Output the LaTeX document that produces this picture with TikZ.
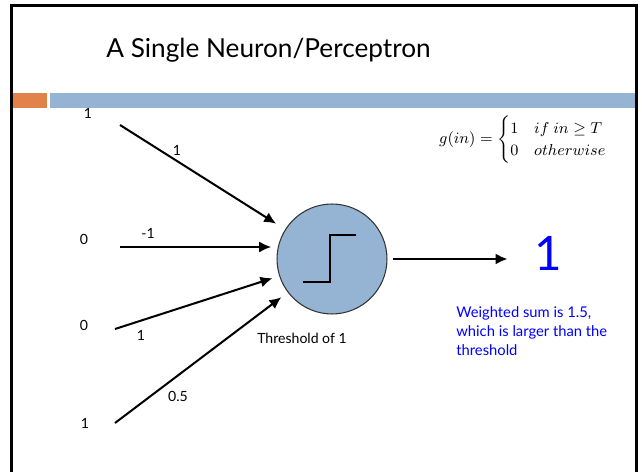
\documentclass[tikz,border=0pt]{standalone}
\usepackage{amsmath}
\usepackage{amssymb}
\usepackage{fontspec}
\setmainfont{Lato}
\usetikzlibrary{positioning, arrows.meta, calc}
\definecolor{barorange}{HTML}{E0824A}
\definecolor{barblue}{HTML}{95B3D3}
\definecolor{cellblue}{HTML}{95B3D3}
\definecolor{noteblue}{HTML}{0000FF}
\tikzset{
  frameline/.style = {line width=1.7pt, draw=black},
  cell/.style      = {circle, draw=black!80, line width=0.6pt, fill=cellblue,
                      minimum size=2.2cm, inner sep=0pt},
  inlbl/.style     = {font=\fontsize{8}{9.6}\selectfont, inner sep=1pt},
  wlbl/.style      = {font=\fontsize{8}{9.6}\selectfont, inner sep=1pt},
  arr/.style       = {-{Latex[length=2.4mm,width=2.2mm]}, line width=1.15pt, draw=black},
  stepfn/.style    = {line width=1.15pt, draw=black},
  note/.style      = {font=\fontsize{8.4}{10.8}\selectfont, text=noteblue,
                      align=left, inner sep=0pt},
}

\begin{document}
\begin{tikzpicture}[x=0.02cm, y=-0.02cm]
  \useasboundingbox (0,0) rectangle (642,472);

  % Slide frame, title and bar
  \draw[frameline] (11.5,472) -- (11.5,5.5) -- (636.5,5.5) -- (636.5,472);
  \fill[barorange] (13,93) rectangle (47,108);
  \fill[barblue] (50,93) rectangle (635,108);
  \node[font=\fontsize{14.9}{18}\selectfont] (title) at (268.5,50) {A Single Neuron/Perceptron};

  % Inputs and arrow tails
  \node[inlbl] (in1) at (88,113) {1};
  \node[inlbl] (in2) at (84,239) {0};
  \node[inlbl] (in3) at (84,325) {0};
  \node[inlbl] (in4) at (85,423) {1};
  \coordinate (t1) at (120,125);
  \coordinate (t2) at (120,247);
  \coordinate (t3) at (115,329);
  \coordinate (t4) at (115,423);

  % Neuron with step function
  \node[cell] (neuron) at (332,259) {};
  \draw[stepfn] ($(neuron)+(-29,23)$) -- ++(27,0) -- ++(0,-47) -- ++(26,0);
  \node[font=\fontsize{8}{9.6}\selectfont] (thr) at (302,338) {Threshold of 1};

  % Weights
  \node[wlbl] (w1) at (177,150) {1};
  \node[wlbl] (w2) at (148,233) {-1};
  \node[wlbl] (w3) at (141,335) {1};
  \node[wlbl] (w4) at (178,396) {0.5};

  % Output
  \node[font=\fontsize{27}{30}\selectfont, text=noteblue, inner sep=0pt] (out) at (548,253) {1};
  \node[note, anchor=north west] (sum) at (456,306)
       {Weighted sum is 1.5,\\which is larger than the\\threshold};
  \node[font=\fontsize{9}{10.5}\selectfont, anchor=west] (gfun) at (433,140)
       {$g(in)=\begin{cases}1 & if\ in\geq T\\0 & otherwise\end{cases}$};

  % Arrows
  \draw[arr, shorten >=6pt] (t1) -- (neuron);
  \draw[arr, shorten >=3pt] (t2) -- (t2 -| neuron.west);
  \draw[arr, shorten >=4pt] (t3) -- (neuron);
  \draw[arr, shorten >=4.5pt] (t4) -- (neuron);
  \draw[arr, shorten <=3pt, shorten >=15pt] (neuron.east) -- (neuron.east -| out.west);

\end{tikzpicture}
\end{document}
